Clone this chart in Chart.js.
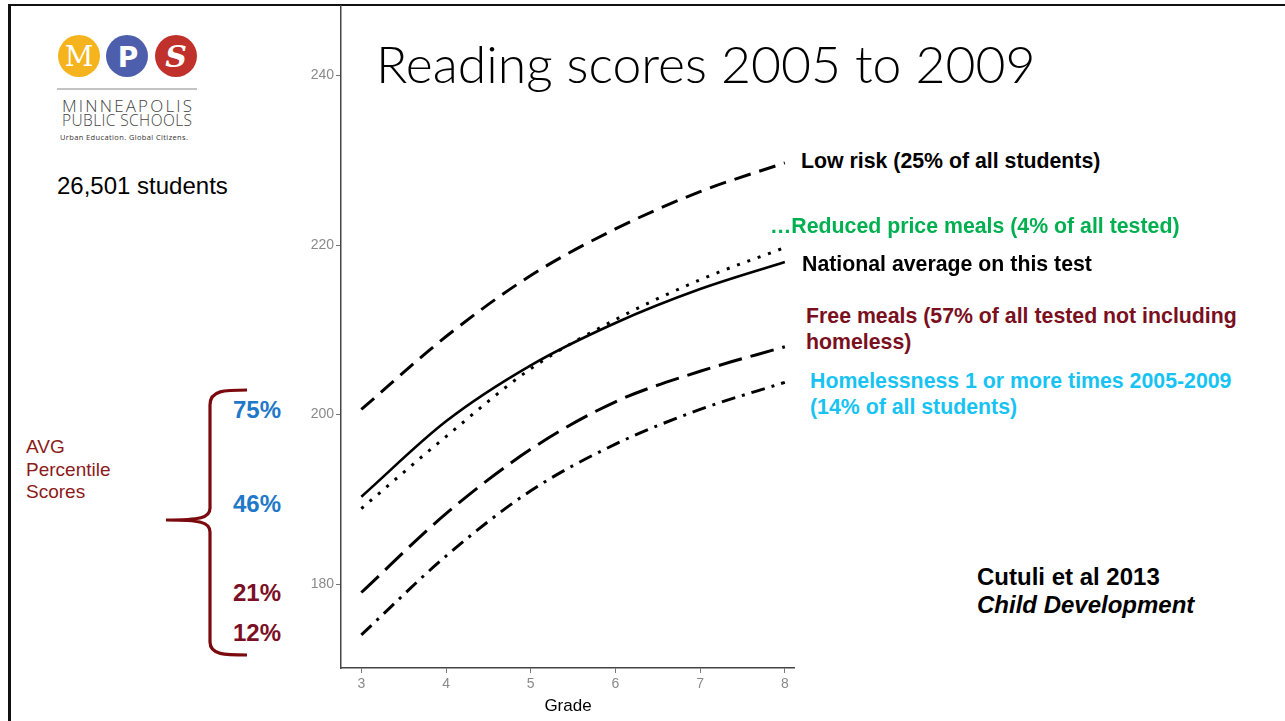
<!DOCTYPE html>
<html>
<head>
<meta charset="utf-8">
<script src="https://cdn.jsdelivr.net/npm/chart.js@4.4.1/dist/chart.umd.min.js"></script>
<style>
  body { margin: 0; background: #fff; width: 1285px; height: 721px; overflow: hidden; position: relative; font-family: "Liberation Sans", Arial, sans-serif; }
  .abs { position: absolute; white-space: nowrap; }
  .lbl { font-weight: bold; font-size: 21.3px; line-height: 26px; }
  .pct { font-weight: bold; font-size: 24px; line-height: 26px; }
  #chartBox { position: absolute; left: 290px; top: 5px; width: 505px; height: 716px; }
</style>
</head>
<body>
<div class="abs" style="left:9px;top:4px;width:1276px;height:2px;background:#111"></div>
<div class="abs" style="left:8px;top:4px;width:3px;height:717px;background:#111"></div>

<svg class="abs" style="left:0;top:0" width="300" height="721">
  <circle cx="79" cy="56" r="21" fill="#f5b31d"/>
  <circle cx="127" cy="56" r="21" fill="#4d5fac"/>
  <circle cx="176" cy="56" r="21" fill="#c0312b"/>
  <text x="79" y="66" fill="#fff" font-family="DejaVu Serif" font-size="28" text-anchor="middle">M</text>
  <text x="128" y="67" fill="#fff" font-family="DejaVu Sans" font-weight="bold" font-size="28" text-anchor="middle">P</text>
  <text x="176" y="67" fill="#fff" font-family="DejaVu Serif" font-style="italic" font-weight="bold" font-size="30" text-anchor="middle">S</text>
  <line x1="57" y1="89" x2="197" y2="89" stroke="#888" stroke-width="1"/>
  <text x="127" y="112" fill="#444" font-family="Open Sans" font-weight="300" font-size="17" text-anchor="middle" textLength="130">MINNEAPOLIS</text>
  <text x="127" y="126" fill="#444" font-family="Open Sans" font-weight="300" font-size="15.5" text-anchor="middle" textLength="130">PUBLIC SCHOOLS</text>
  <text x="124" y="140" fill="#333" font-family="Open Sans" font-size="7.5" text-anchor="middle" textLength="128">Urban Education. Global Citizens.</text>
  <path d="M247,390 C225,390 210,390 210,405 L210,508 C210,518 200,520 166,520 C200,520 210,522 210,532 L210,642 C210,655 225,655 247,655" fill="none" stroke="#7b0a0f" stroke-width="3.2"/>
</svg>

<div class="abs" style="left:57px;top:172px;font-size:24px;line-height:28px;color:#000">26,501 students</div>
<div class="abs" style="left:26px;top:436px;font-size:19px;line-height:22.5px;color:#8b1a1a">AVG<br>Percentile<br>Scores</div>
<div class="abs pct" style="left:233px;top:397px;color:#1f78c8">75%</div>
<div class="abs pct" style="left:233px;top:491px;color:#1f78c8">46%</div>
<div class="abs pct" style="left:233px;top:580px;color:#7b0f25">21%</div>
<div class="abs pct" style="left:233px;top:620px;color:#7b0f25">12%</div>

<div id="chartBox"><canvas id="scoreChart" width="505" height="716"></canvas></div>

<div class="abs" style="left:376px;top:32px;font-family:Lato;font-weight:300;font-size:51.7px;color:#000">Reading scores 2005 to 2009</div>

<div class="abs lbl" style="left:801px;top:148px;color:#000">Low risk (25% of all students)</div>
<div class="abs lbl" style="left:770px;top:213px;color:#00b050">…Reduced price meals (4% of all tested)</div>
<div class="abs lbl" style="left:802px;top:251px;color:#000">National average on this test</div>
<div class="abs lbl" style="left:806px;top:303px;color:#7a0f1e">Free meals (57% of all tested not including<br>homeless)</div>
<div class="abs lbl" style="left:810px;top:368px;color:#17c3f2">Homelessness 1 or more times 2005-2009<br>(14% of all students)</div>
<div class="abs" style="left:977px;top:563px;color:#000;font-weight:bold;font-size:24px;line-height:28px">Cutuli et al 2013<br><i>Child Development</i></div>

<script>
var grades = [3, 4, 5, 6, 7, 8];
var lowRisk = [200.6, 209.2, 216.4, 221.9, 226.3, 229.7];
var reducedPrice = [188.9, 197.4, 205.4, 211.2, 215.9, 219.7];
var nationalAvg = [190.3, 199.2, 205.8, 210.8, 214.8, 218.0];
var freeMeals = [179.0, 188.3, 195.9, 201.5, 205.1, 208.0];
var homeless = [174.0, 183.3, 191.0, 196.5, 200.6, 203.8];
var yTicks = [180, 200, 220, 240];

function pts(vals) {
  return grades.map(function (g, i) { return { x: g, y: vals[i] }; });
}

function line(label, vals, dash, width) {
  return {
    label: label,
    data: pts(vals),
    borderColor: '#000',
    borderWidth: width,
    borderDash: dash,
    pointRadius: 0,
    fill: false,
    cubicInterpolationMode: 'monotone'
  };
}

var ctx = document.getElementById('scoreChart').getContext('2d');
var scoreChart = new Chart(ctx, {
  type: 'line',
  data: {
    datasets: [
      line('Low risk', lowRisk, [17, 9], 3),
      line('Reduced price meals', reducedPrice, [3, 8], 3),
      line('National average', nationalAvg, [], 2.6),
      line('Free meals', freeMeals, [24, 9], 3),
      line('Homelessness', homeless, [14, 7, 3, 7], 3)
    ]
  },
  options: {
    responsive: false,
    animation: false,
    layout: { padding: 0 },
    plugins: { legend: { display: false }, tooltip: { enabled: false } },
    scales: {
      x: {
        type: 'linear',
        min: 2.76,
        max: 8.12,
        afterBuildTicks: function (s) { s.ticks = grades.map(function (g) { return { value: g }; }); },
        afterFit: function (s) { s.height = 53; s.paddingLeft = 0; s.paddingRight = 0; },
        grid: { drawOnChartArea: false, drawTicks: true, tickLength: 5, color: '#777' },
        border: { color: '#444', width: 1.5 },
        ticks: { color: '#8a8a8a', font: { family: 'Liberation Sans', size: 14 }, padding: 3, maxRotation: 0 },
        title: { display: true, text: 'Grade', color: '#000', font: { family: 'Liberation Sans', size: 17 }, padding: { top: -2 } }
      },
      y: {
        min: 170.09,
        max: 248.32,
        afterBuildTicks: function (s) { s.ticks = yTicks.map(function (v) { return { value: v }; }); },
        afterFit: function (s) { s.width = 51; s.paddingTop = 0; s.paddingBottom = 0; },
        grid: { drawOnChartArea: false, drawTicks: true, tickLength: 5, color: '#777' },
        border: { color: '#444', width: 1.5 },
        ticks: { color: '#8a8a8a', font: { family: 'Liberation Sans', size: 14 }, padding: 2 }
      }
    }
  }
});
</script>
</body>
</html>
